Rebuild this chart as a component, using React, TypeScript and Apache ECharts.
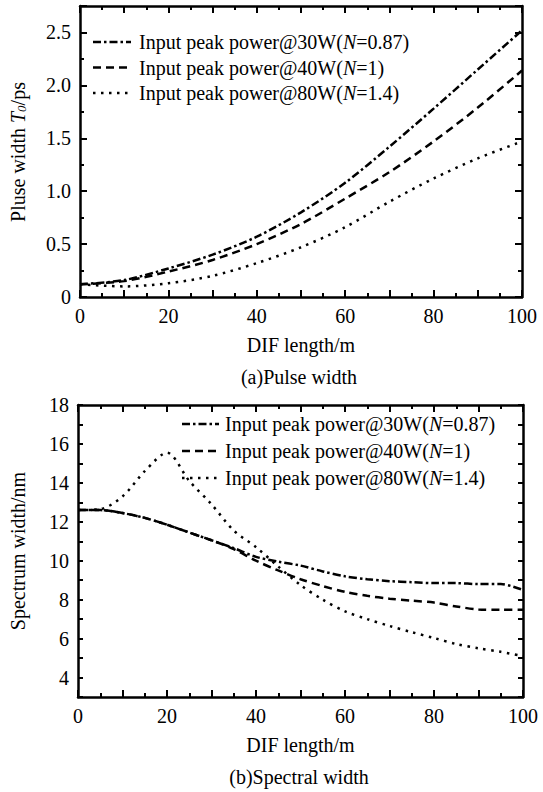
import React, { useEffect, useRef } from "react";
import * as echarts from "echarts";

// ---- data ----
const LENGTH_A = [0, 10, 20, 30, 40, 50, 60, 70, 80, 90, 100];
const PULSE_30W = [0.12, 0.16, 0.27, 0.4, 0.57, 0.8, 1.08, 1.42, 1.78, 2.15, 2.52];
const PULSE_40W = [0.12, 0.15, 0.24, 0.35, 0.5, 0.69, 0.93, 1.18, 1.47, 1.79, 2.14];
const PULSE_80W = [0.12, 0.1, 0.13, 0.2, 0.32, 0.47, 0.66, 0.9, 1.12, 1.31, 1.47];

const LENGTH_B = [0, 5, 10, 15, 20, 25, 30, 35, 40, 45, 50, 55, 60, 65, 70, 75, 80, 85, 90, 95, 100];
const SPEC_30W = [12.6, 12.6, 12.45, 12.2, 11.85, 11.45, 11.05, 10.65, 10.2, 9.95, 9.75, 9.45, 9.2, 9.05, 8.95, 8.9, 8.85, 8.85, 8.8, 8.8, 8.5];
const SPEC_40W = [12.6, 12.6, 12.45, 12.2, 11.85, 11.45, 11.05, 10.6, 10.0, 9.5, 9.05, 8.7, 8.4, 8.2, 8.05, 7.95, 7.85, 7.65, 7.5, 7.48, 7.48];
const SPEC_80W = [12.6, 12.65, 13.3, 14.6, 15.55, 14.1, 12.9, 11.55, 10.7, 9.7, 8.75, 8.0, 7.4, 7.0, 6.65, 6.33, 6.03, 5.72, 5.5, 5.32, 5.1];

const LEGEND_NAMES = [
  "Input peak power@30W(N=0.87)",
  "Input peak power@40W(N=1)",
  "Input peak power@80W(N=1.4)",
];
const LEGEND_RICH = [
  "Input peak power@30W({i|N}=0.87)",
  "Input peak power@40W({i|N}=1)",
  "Input peak power@80W({i|N}=1.4)",
];

const FONT = "Liberation Serif";
const DASHES: number[][] = [
  [8, 3, 2.5, 3],
  [8, 5],
  [2.5, 5.5],
];

const pair = (xs: number[], ys: number[]) => xs.map((x, i) => [x, ys[i]]);

function tick(len: number) {
  return { show: true, inside: true, length: len, lineStyle: { color: "#000", width: 2 } };
}
function minor(len: number) {
  return { show: true, splitNumber: 2, length: len, lineStyle: { color: "#000", width: 2 } };
}
function axisLine() {
  return { show: true, onZero: false, lineStyle: { color: "#000", width: 2.5 } };
}

function xAxes(grid: number) {
  const base = () => ({
    type: "value",
    gridIndex: grid,
    min: 0,
    max: 100,
    interval: 10,
    splitLine: { show: false },
    axisLine: axisLine(),
    axisTick: tick(7),
    minorTick: minor(4),
  });
  return [
    {
      ...base(),
      position: "bottom",
      name: "DIF length/m",
      nameLocation: "middle",
      nameGap: 38,
      nameTextStyle: { fontFamily: FONT, fontSize: 20, color: "#000" },
      axisLabel: {
        show: true,
        margin: 9,
        fontFamily: FONT,
        fontSize: 20,
        color: "#000",
        formatter: (v: number) => (v % 20 === 0 ? String(v) : ""),
      },
    },
    { ...base(), position: "top", axisLabel: { show: false } },
  ];
}

function yAxes(grid: number, min: number, max: number, interval: number, useMinor: boolean, tickLen: number, fmt: (v: number) => string) {
  const base = () => {
    const a: any = {
      type: "value",
      gridIndex: grid,
      min,
      max,
      interval,
      splitLine: { show: false },
      axisLine: axisLine(),
      axisTick: tick(tickLen),
    };
    if (useMinor) a.minorTick = minor(4);
    return a;
  };
  return [
    {
      ...base(),
      position: "left",
      axisLabel: { show: true, margin: 9, fontFamily: FONT, fontSize: 20, color: "#000", formatter: fmt },
    },
    { ...base(), position: "right", axisLabel: { show: false } },
  ];
}

function legendGraphics(x0: number, x1: number, tx: number, ys: number[]) {
  const els: any[] = [];
  ys.forEach((y, k) => {
    els.push({
      type: "line",
      shape: { x1: x0, y1: y, x2: x1, y2: y },
      style: { stroke: "#000", lineWidth: 2.5, lineDash: DASHES[k] },
    });
    els.push({
      type: "text",
      x: tx,
      y,
      style: {
        text: LEGEND_RICH[k],
        fontFamily: FONT,
        fontSize: 20,
        fill: "#000",
        verticalAlign: "middle",
        rich: { i: { fontFamily: FONT, fontSize: 20, fontStyle: "italic", fill: "#000" } },
      },
    });
  });
  return els;
}

export default function App() {
  const ref = useRef<HTMLDivElement>(null);
  useEffect(() => {
    if (!ref.current) return;
    const chart = echarts.init(ref.current, null, { renderer: "svg" });
    const isHalf = (v: number) => Math.abs(v * 2 - Math.round(v * 2)) < 1e-6;
    const fmtA = (v: number) => (v === 0 ? "0" : isHalf(v) && v <= 2.5 ? v.toFixed(1) : "");
    const fmtB = (v: number) => (Math.round(v) % 2 === 0 ? String(Math.round(v)) : "");
    const series: any[] = [];
    const topData = [PULSE_30W, PULSE_40W, PULSE_80W];
    const botData = [SPEC_30W, SPEC_40W, SPEC_80W];
    topData.forEach((d, k) =>
      series.push({
        name: LEGEND_NAMES[k],
        type: "line",
        xAxisIndex: 0,
        yAxisIndex: 0,
        data: pair(LENGTH_A, d),
        smooth: 0.3,
        symbol: "none",
        lineStyle: { color: "#000", width: 2.5, type: DASHES[k] },
      })
    );
    botData.forEach((d, k) =>
      series.push({
        name: LEGEND_NAMES[k],
        type: "line",
        xAxisIndex: 2,
        yAxisIndex: 2,
        data: pair(LENGTH_B, d),
        smooth: 0.3,
        symbol: "none",
        lineStyle: { color: "#000", width: 2.5, type: DASHES[k] },
      })
    );
    chart.setOption({
      animation: false,
      grid: [
        { left: 80, top: 6, width: 442, height: 291 },
        { left: 78, top: 405, width: 445, height: 292 },
      ],
      xAxis: [...xAxes(0), ...xAxes(1)],
      yAxis: [...yAxes(0, 0, 2.75, 0.5, true, 7, fmtA), ...yAxes(1, 3, 18, 1, false, 5, fmtB)],
      series,
      graphic: [
        ...legendGraphics(93, 131, 139, [42, 67.5, 93]),
        ...legendGraphics(182, 219, 225, [424, 451, 478]),
        {
          type: "text",
          x: 18,
          y: 152,
          rotation: Math.PI / 2,
          style: {
            text: "Pluse width {i|T}{sub|0}/ps",
            fontFamily: FONT,
            fontSize: 20,
            fill: "#000",
            align: "center",
            verticalAlign: "middle",
            rich: {
              i: { fontFamily: FONT, fontSize: 20, fontStyle: "italic", fill: "#000" },
              sub: { fontFamily: FONT, fontSize: 13, fontStyle: "italic", fill: "#000", verticalAlign: "bottom" },
            },
          },
        },
        {
          type: "text",
          x: 18,
          y: 551,
          rotation: Math.PI / 2,
          style: { text: "Spectrum width/nm", fontFamily: FONT, fontSize: 20, fill: "#000", align: "center", verticalAlign: "middle" },
        },
        {
          type: "text",
          x: 299,
          y: 377,
          style: { text: "(a)Pulse width", fontFamily: FONT, fontSize: 20, fill: "#000", align: "center", verticalAlign: "middle" },
        },
        {
          type: "text",
          x: 299,
          y: 777,
          style: { text: "(b)Spectral width", fontFamily: FONT, fontSize: 20, fill: "#000", align: "center", verticalAlign: "middle" },
        },
      ],
    });
    return () => chart.dispose();
  }, []);
  return <div ref={ref} style={{ position: "fixed", left: 0, top: 0, width: 543, height: 792, background: "#fff" }} />;
}
